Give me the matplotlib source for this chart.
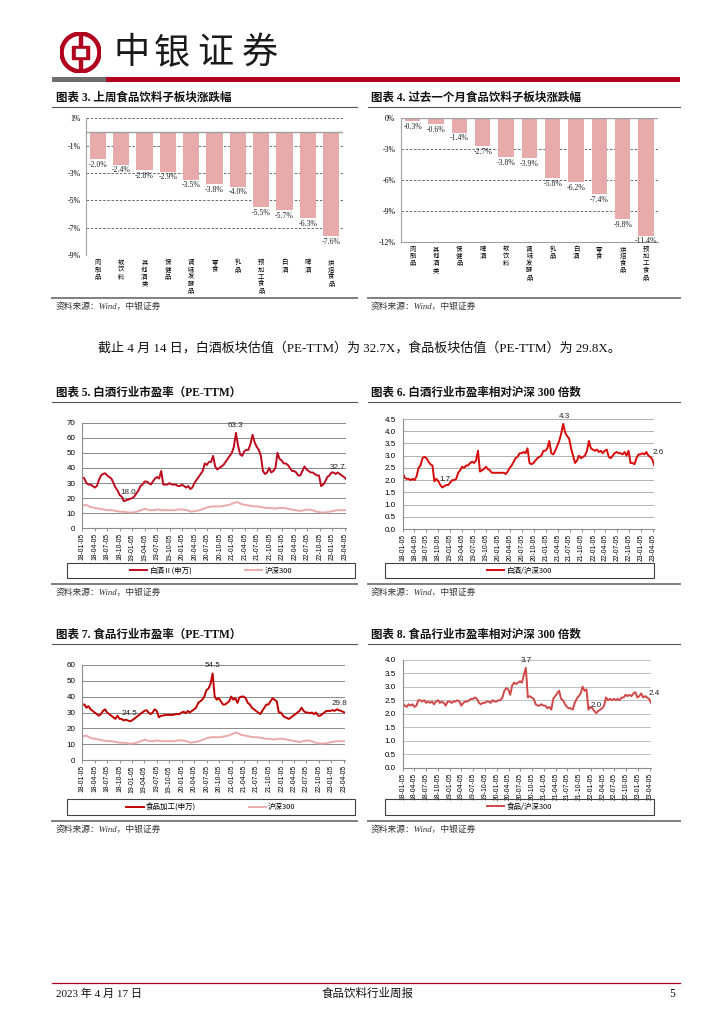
"""
食品饮料行业周报 第5页：板块涨跌幅与估值图表
"""

# ---------------------------------------------------------------------
# 库
# ---------------------------------------------------------------------
import numpy as np
import pandas as pd
import matplotlib
matplotlib.use("Agg")
import matplotlib.pyplot as plt
import matplotlib.dates as mdates
from matplotlib.patches import Circle, Rectangle
from matplotlib.lines import Line2D
from matplotlib.ticker import FuncFormatter

plt.rcParams['font.family'] = ['Liberation Serif', 'Noto Sans CJK SC']
SANS = ['Liberation Sans', 'Noto Sans CJK SC']
CJK = ['Noto Sans CJK SC', 'Liberation Serif']

# ---------------------------------------------------------------------
# 数据
# ---------------------------------------------------------------------
week_cats = ['肉制品', '软饮料', '其他酒类', '保健品', '调味发酵品', '零食',
             '乳品', '预加工食品', '白酒', '啤酒', '烘焙食品']
week_chg = [-2.0, -2.4, -2.8, -2.9, -3.5, -3.8, -4.0, -5.5, -5.7, -6.3, -7.6]

month_cats = ['肉制品', '其他酒类', '保健品', '啤酒', '软饮料', '调味发酵品',
              '乳品', '白酒', '零食', '烘焙食品', '预加工食品']
month_chg = [-0.3, -0.6, -1.4, -2.7, -3.8, -3.9, -5.8, -6.2, -7.4, -9.8, -11.4]

# 半月读数 2018-01 .. 2023-04
baijiu_pe = [34, 33, 30, 29, 29, 28, 27, 28, 32, 35, 36, 36.5, 35, 34, 33, 30, 27, 25, 22, 21, 18.0, 18.5, 19, 19.5,
             20, 21, 23, 25, 28, 29, 31, 31, 30, 29, 31, 33, 34, 33, 38, 29, 29, 29, 30, 29, 29, 29, 28, 28,
             29, 28, 27, 28, 26, 27, 30, 32, 34, 36, 38, 43, 42, 44, 44, 48, 41, 39, 40, 41, 42, 44, 46, 48,
             50, 54, 63.3, 55, 49, 48, 51, 52, 52, 56, 62, 57, 54, 52, 48, 38, 36, 37, 40, 37, 38, 40, 50, 46,
             45, 43, 43, 42, 40, 38, 38, 37, 35, 35, 38, 41, 39, 38, 37, 37, 36, 35, 35, 28, 29, 31, 34, 35,
             37, 37, 36, 37, 36, 35, 34, 32.7]

baijiu_rel = [2.3, 2.1, 2.05, 2.05, 2.0, 2.05, 2.0, 2.15, 2.5, 2.6, 2.9, 2.95, 2.9, 2.75, 2.65, 2.6, 1.95, 2.05, 1.95, 1.8, 1.7, 1.75, 1.8, 1.8,
              1.9, 2.0, 2.0, 2.05, 2.3, 2.4, 2.55, 2.5, 2.6, 2.6, 2.7, 2.75, 2.7, 2.8, 3.2, 2.35, 2.4, 2.45, 2.55, 2.45, 2.4, 2.3, 2.3, 2.3,
              2.3, 2.3, 2.3, 2.3, 2.25, 2.35, 2.5, 2.6, 2.75, 2.9, 2.95, 3.1, 3.1, 3.15, 3.1, 3.3, 2.7, 2.65, 2.7, 2.8, 2.9, 2.95, 3.0, 3.2,
              3.2, 3.3, 3.6, 3.1, 3.05, 3.2, 3.4, 3.6, 3.9, 4.3, 3.95, 3.8, 3.7, 3.3, 3.0, 2.7, 2.8, 3.0, 2.9, 2.95, 3.0, 3.2, 3.6, 3.3,
              3.25, 3.2, 3.25, 3.15, 3.2, 3.1, 3.2, 3.25, 2.95, 2.9, 3.0, 3.1, 3.15, 3.1, 3.1, 3.05, 3.15, 3.0, 3.2, 2.7, 2.7, 2.65, 2.9, 3.05,
              3.05, 3.1, 3.05, 3.15, 3.0, 2.95, 2.85, 2.6]

food_pe = [35, 35, 33, 34, 32, 31, 30, 29, 28, 29, 31, 32, 30, 29, 28, 27, 26, 28, 26, 26, 25, 25.5, 25, 24.5,
           25, 26, 27, 28, 29, 30, 31, 31.5, 30, 29, 30, 32, 31, 27, 28, 28, 28.5, 28.5, 28.5, 28.5, 28.5, 29, 29, 29,
           30, 30.5, 29.5, 31, 30, 31, 32, 33, 36, 37, 38, 40, 44, 45, 48, 54.5, 40, 38, 39, 37, 35, 35, 36, 37,
           40, 38, 39, 36, 39.5, 40, 40, 39, 36, 35, 33, 32, 31, 30, 29, 31, 33, 35, 35, 37, 39, 38, 37, 30,
           30, 28, 27, 26.5, 26, 27, 28, 29, 30, 31, 33, 31, 30, 30, 29.5, 30, 29, 30, 28, 28, 29, 30, 31, 31,
           31, 31.5, 31, 32, 31.5, 31, 30.5, 29.8]

food_rel = [2.4, 2.3, 2.25, 2.35, 2.3, 2.35, 2.25, 2.3, 2.5, 2.5, 2.45, 2.5, 2.4, 2.45, 2.4, 2.45, 2.35, 2.45, 2.5, 2.4, 2.45, 2.4, 2.3, 2.45,
            2.45, 2.4, 2.45, 2.45, 2.5, 2.45, 2.3, 2.4, 2.45, 2.45, 2.5, 2.55, 2.55, 2.6, 2.55, 2.4, 2.35, 2.4, 2.4, 2.45, 2.45, 2.4, 2.5, 2.45,
            2.45, 2.5, 2.5, 2.6, 2.85, 2.95, 2.9, 2.7, 3.05, 3.15, 3.1, 3.15, 3.2, 3.15, 3.45, 3.7, 2.6, 2.65, 2.6, 2.55, 2.35, 2.3, 2.3, 2.35,
            2.3, 2.3, 2.2, 2.25, 2.15, 2.55, 2.65, 2.75, 2.85, 2.55, 2.5, 2.35, 2.25, 2.2, 2.2, 2.15, 2.4, 2.55, 2.65, 2.75, 3.0, 2.85, 2.9, 2.15,
            2.25, 2.2, 2.1, 2.02, 2.1, 2.15, 2.2, 2.3, 2.6, 2.5, 2.55, 2.5, 2.55, 2.5, 2.55, 2.5, 2.6, 2.6, 2.7, 2.65, 2.7, 2.65, 2.75, 2.8,
            2.6, 2.65, 2.75, 2.6, 2.65, 2.6, 2.55, 2.4]

# 月度读数
hs300_pe = [15, 15.5, 14, 13.5, 13, 12.5, 12, 12, 11.5, 11, 11, 10.5,
            10.5, 11, 12, 13, 12, 12, 12.5, 12, 12, 12, 12, 12.5,
            12.5, 12, 11, 11.5, 12, 13, 14, 14.5, 14.5, 14.5, 15, 15.5,
            16.5, 17.5, 16, 15.5, 15, 14.5, 14.5, 14, 13.5, 13.5, 13, 13.5,
            13.5, 13, 12.5, 12, 11.5, 12, 12.5, 12, 11, 10.5, 10.5, 11,
            11.5, 12, 12, 12]

start, end = '2018-01-05', '2023-04-14'
dates_half = pd.date_range(start, end, periods=len(baijiu_pe))
dates_month = pd.date_range(start, end, periods=len(hs300_pe))
tick_dates = pd.date_range('2018-01-05', '2023-04-05', freq=pd.DateOffset(months=3))

# ---------------------------------------------------------------------
# 页面坐标 (像素 -> 图形比例)
# ---------------------------------------------------------------------
W, H = 724, 1024
fig = plt.figure(figsize=(W / 100, H / 100), dpi=100)


def rect(x0, y0, x1, y1):
    return [x0 / W, 1 - y1 / H, (x1 - x0) / W, (y1 - y0) / H]


def text(x, y, s, **kw):
    fig.text(x / W, 1 - y / H, s, **kw)


def hline(x0, x1, y, color, lw):
    fig.add_artist(Line2D([x0 / W, x1 / W], [1 - y / H, 1 - y / H],
                          transform=fig.transFigure, color=color, lw=lw))


def box(x0, y0, x1, y1, **kw):
    fig.add_artist(Rectangle((x0 / W, 1 - y1 / H), (x1 - x0) / W, (y1 - y0) / H,
                             transform=fig.transFigure, **kw))


# ---------------------------------------------------------------------
# 页眉
# ---------------------------------------------------------------------
RED = '#B0001E'
logo = fig.add_axes(rect(60, 32, 101, 73))
logo.set_xlim(-1, 1)
logo.set_ylim(-1, 1)
logo.set_aspect('equal')
logo.axis('off')
logo.add_patch(Circle((0, 0), 1.0, color=RED))
logo.add_patch(Circle((0, 0), 0.78, color='white'))
logo.add_patch(Rectangle((-0.09, -0.85), 0.18, 1.7, color=RED))
logo.add_patch(Rectangle((-0.42, -0.34), 0.84, 0.68, color=RED))
logo.add_patch(Rectangle((-0.22, -0.15), 0.44, 0.30, color='white'))

for cx, ch in zip([132, 172, 215, 260], '中银证券'):
    text(cx, 53, ch, family=CJK, fontsize=26, ha='center', va='center', color='#1a1a1a')

box(52, 77, 106, 82, color='#6e6e6e', lw=0)
box(106, 77, 680, 82, color=RED, lw=0)

# ---------------------------------------------------------------------
# 标题、分隔线、资料来源
# ---------------------------------------------------------------------
titles = [(56, 98, '图表 3. 上周食品饮料子板块涨跌幅'),
          (371, 98, '图表 4. 过去一个月食品饮料子板块涨跌幅'),
          (56, 393, '图表 5. 白酒行业市盈率（PE-TTM）'),
          (371, 393, '图表 6. 白酒行业市盈率相对沪深 300 倍数'),
          (56, 635, '图表 7. 食品行业市盈率（PE-TTM）'),
          (371, 635, '图表 8. 食品行业市盈率相对沪深 300 倍数')]
for x, y, s in titles:
    text(x, y, s, fontsize=8.3, weight='bold', va='center', color='#111111')

for y in [107, 402, 644]:
    hline(52, 357, y, '#555555', 0.8)
    hline(368, 680, y, '#555555', 0.8)

for y in [298, 584, 821]:
    hline(52, 357, y, '#7f7f7f', 1.4)
    hline(368, 680, y, '#7f7f7f', 1.4)
    text(56, y + 9, '资料来源：Wind，中银证券', fontsize=6.3, va='center',
         style='italic', color='#333333')
    text(371, y + 9, '资料来源：Wind，中银证券', fontsize=6.3, va='center',
         style='italic', color='#333333')

text(98, 348, '截止 4 月 14 日，白酒板块估值（PE-TTM）为 32.7X，食品板块估值（PE-TTM）为 29.8X。',
     fontsize=9.4, va='center', color='#111111')

# ---------------------------------------------------------------------
# 柱状图
# ---------------------------------------------------------------------
BAR = '#E8ABAB'


def bar_chart(pos, cats, vals, ylim, yticks, width, grid_ticks, solid_bottom):
    ax = fig.add_axes(rect(*pos))
    x = np.arange(len(cats))
    ax.bar(x, vals, width=width, color=BAR, zorder=2)
    ax.set_xlim(-0.5, len(cats) - 0.5)
    ax.set_ylim(*ylim)
    ax.set_yticks(yticks)
    ax.yaxis.set_major_formatter(FuncFormatter(lambda v, p: f'{v:.0f}%'))
    ax.set_xticks(x)
    ax.set_xticklabels(['\n'.join(c) for c in cats], family=CJK,
                       fontsize=4.6, linespacing=0.85, va='top')
    ax.tick_params(axis='x', length=0, pad=2.5)
    ax.tick_params(axis='y', length=0, pad=4, labelsize=5.6)
    for g in grid_ticks:
        ax.axhline(g, color='#555555', lw=0.6, ls=(0, (3, 2)), zorder=1)
    ax.axhline(0, color='#a0a0a0', lw=1.0, zorder=3)
    for s in ['top', 'right', 'bottom']:
        ax.spines[s].set_visible(False)
    ax.spines['left'].set_color('#a0a0a0')
    if solid_bottom:
        ax.spines['bottom'].set_visible(True)
        ax.spines['bottom'].set_color('#a0a0a0')
    for xi, v in zip(x, vals):
        ax.annotate(f'{v:.1f}%', (xi, v), xytext=(0, -1.2), textcoords='offset points',
                    ha='center', va='top', fontsize=5.6, color='#222222', zorder=4)
    return ax


bar_chart((86, 118.3, 343, 255), week_cats, week_chg, (-9, 1),
          [1, -1, -3, -5, -7, -9], 0.7, [1, -1, -3, -5, -7, -9], False)
bar_chart((401, 118.3, 657.7, 241.7), month_cats, month_chg, (-12, 0),
          [0, -3, -6, -9, -12], 0.66, [-3, -6, -9], True)

# ---------------------------------------------------------------------
# 折线图
# ---------------------------------------------------------------------


def date_axes(pos, ymax, ystep, fmt, grid_color):
    ax = fig.add_axes(rect(*pos))
    ax.set_xlim(pd.Timestamp(start), pd.Timestamp(end))
    ax.set_ylim(0, ymax)
    ax.set_yticks(np.arange(0, ymax + ystep / 2, ystep))
    ax.yaxis.set_major_formatter(FuncFormatter(lambda v, p: fmt.format(v)))
    ax.set_xticks(tick_dates)
    ax.xaxis.set_major_formatter(mdates.DateFormatter('%y-%m-%d'))
    ax.tick_params(axis='x', rotation=90, labelsize=4.9, length=2.5, width=0.6,
                   color='#808080', pad=1)
    ax.tick_params(axis='y', labelsize=5.8, length=0, pad=5)
    for lab in ax.get_xticklabels() + ax.get_yticklabels():
        lab.set_family(SANS)
    ax.grid(axis='y', color=grid_color, lw=0.7)
    ax.set_axisbelow(True)
    for s in ['top', 'right']:
        ax.spines[s].set_visible(False)
    for s in ['left', 'bottom']:
        ax.spines[s].set_color('#8c8c8c')
        ax.spines[s].set_linewidth(0.8)
    return ax


def mark(ax, dates, vals, idx, dx, dy):
    ax.annotate(f'{vals[idx]:.1f}', (dates[idx], vals[idx]), xytext=(dx, dy),
                textcoords='offset points', ha='center', va='bottom',
                fontsize=5.8, family=SANS, color='#222222')


def legend(ax_handles, labels, x0, y0, x1, y1, spacing):
    box(x0, y0, x1, y1, fill=False, ec='#404040', lw=0.8)
    fig.legend(ax_handles, labels, loc='center',
               bbox_to_anchor=((x0 + x1) / 2 / W, 1 - (y0 + y1) / 2 / H),
               ncol=len(labels), frameon=False, handlelength=2.3,
               handletextpad=0.3, columnspacing=spacing, prop={'family': CJK, 'size': 5.4})


PINK = '#EBAAAA'

# 图表5
ax5 = date_axes((82.3, 422.7, 346, 528.3), 70, 10, '{:.0f}', '#8a8a8a')
l5a, = ax5.plot(dates_half, baijiu_pe, color='#BE0A1E', lw=1.4)
l5b, = ax5.plot(dates_month, hs300_pe, color=PINK, lw=1.4)
mark(ax5, dates_half, baijiu_pe, int(np.argmax(baijiu_pe)), 0, 3)
mark(ax5, dates_half, baijiu_pe, int(np.argmin(baijiu_pe)), 3, 4)
mark(ax5, dates_half, baijiu_pe, len(baijiu_pe) - 1, -6, 6)
legend([l5a, l5b], ['白酒Ⅱ(申万)', '沪深300'], 67, 563, 355, 578, 7)

# 图表6
ax6 = date_axes((402.7, 419, 654.3, 529), 4.5, 0.5, '{:.1f}', '#b0b0b0')
l6, = ax6.plot(dates_half, baijiu_rel, color='#DA0A0A', lw=1.4)
mark(ax6, dates_half, baijiu_rel, int(np.argmax(baijiu_rel)), 1, 3)
mark(ax6, dates_half, baijiu_rel, int(np.argmin(baijiu_rel)), 2, 3)
mark(ax6, dates_half, baijiu_rel, len(baijiu_rel) - 1, 3, 7)
legend([l6], ['白酒/沪深300'], 385, 563, 654, 578, 2)

# 图表7
ax7 = date_axes((82.3, 664.7, 345, 760.3), 60, 10, '{:.0f}', '#8a8a8a')
l7a, = ax7.plot(dates_half, food_pe, color='#C00000', lw=1.4)
l7b, = ax7.plot(dates_month, hs300_pe, color=PINK, lw=1.4)
mark(ax7, dates_half, food_pe, int(np.argmax(food_pe)), 0, 3)
mark(ax7, dates_half, food_pe, int(np.argmin(food_pe)), 0, 3)
mark(ax7, dates_half, food_pe, len(food_pe) - 1, -4, 4)
legend([l7a, l7b], ['食品加工(申万)', '沪深300'], 67, 799, 355, 815, 7)

# 图表8
ax8 = date_axes((402.7, 659.7, 651, 767.7), 4.0, 0.5, '{:.1f}', '#c0c0c0')
l8, = ax8.plot(dates_half, food_rel, color='#D04848', lw=1.4)
mark(ax8, dates_half, food_rel, int(np.argmax(food_rel)), 0, 3)
mark(ax8, dates_half, food_rel, int(np.argmin(food_rel)), 0, 3)
mark(ax8, dates_half, food_rel, len(food_rel) - 1, 2, 4)
legend([l8], ['食品/沪深300'], 385, 799, 654, 815, 2)

# ---------------------------------------------------------------------
# 页脚
# ---------------------------------------------------------------------
hline(52, 680, 983, RED, 0.9)
text(56, 994, '2023 年 4 月 17 日', fontsize=8, va='center', color='#111111')
text(368, 994, '食品饮料行业周报', fontsize=8.3, va='center', ha='center', color='#111111')
text(675, 994, '5', fontsize=8.3, va='center', ha='right', color='#111111')

fig.savefig('out.png', dpi=100)
